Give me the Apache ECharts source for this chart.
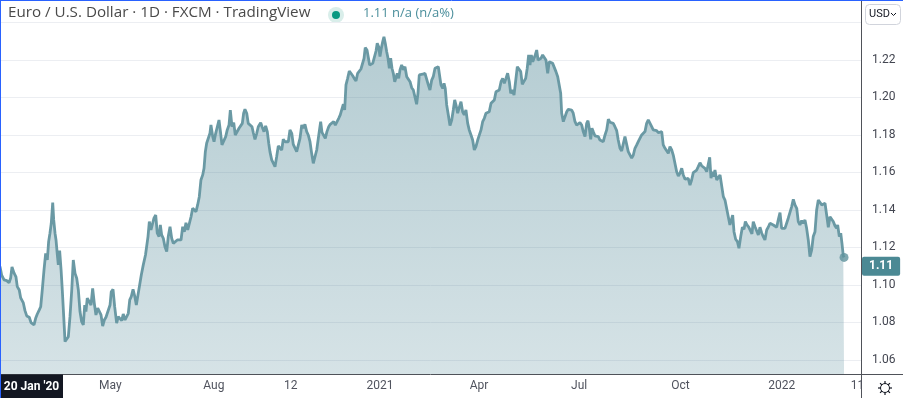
<!DOCTYPE html>
<html><head><meta charset="utf-8">
<script src="https://cdn.jsdelivr.net/npm/echarts@6/dist/echarts.min.js"></script>
<style>html,body{margin:0;padding:0;background:#fff}#c{width:903px;height:398px}</style>
</head><body><div id="c"></div>
<script>
const titleText = 'Euro / U.S. Dollar · 1D · FXCM · TradingView';
const lastText = '1.11 n/a (n/a%)';
const currency = 'USD';
const cursorLabel = "20 Jan '20";
// days counted from 2021-01-01
const days = [
-345.3,-343.8,-341.6,-339.2,-337.1,-335.6,-334.4,-332.6,-330.8,-329.6,-327.8,-326.5,-324.1,-322.6,-321.0,-318.7,-317.1,-315.6,-314.4,-312.9,
-311.4,-309.6,-308.3,-306.9,-305.3,-303.8,-302.3,-301.1,-299.9,-298.7,-297.4,-296.5,-295.3,-294.4,-293.2,-292.3,-291.1,-289.8,-288.7,-287.4,
-286.2,-284.7,-283.2,-281.7,-280.1,-278.7,-277.1,-275.6,-274.1,-272.6,-271.1,-269.6,-268.3,-267.2,-266.0,-264.2,-262.6,-261.1,-259.6,-258.1,
-256.5,-255.1,-253.5,-252.0,-250.5,-249.0,-247.2,-245.3,-244.2,-242.6,-241.1,-239.3,-237.8,-236.3,-234.7,-233.3,-231.7,-230.2,-228.7,-227.4,
-226.0,-224.4,-222.9,-221.4,-219.9,-218.4,-216.9,-215.1,-213.1,
-210.8,-209.6,-208.1,-206.5,-205.4,-203.8,-202.4,-200.8,-199.6,-198.4,-196.9,-195.4,-193.8,-192.4,-190.8,-189.3,-187.8,-186.0,-184.2,-182.4,
-180.8,-179.3,-177.8,-176.3,-174.7,-173.3,-171.7,-170.2,-168.7,-167.2,-165.7,-164.2,-162.7,-161.1,-159.9,-158.7,-157.5,-156.0,-154.5,-153.6,
-152.0,-150.8,-149.3,-147.8,-146.3,-144.8,-143.6,-141.8,-140.2,-138.8,-137.2,-136.0,-134.5,-132.9,-131.5,-129.7,-128.1,-126.6,-125.1,-123.9,
-122.7,-121.1,-119.7,-118.1,-116.3,-115.1,-113.6,-112.0,-110.6,-108.4,-107.0,-105.4,-103.9,-102.4,-101.1,-100.0,-98.4,-97.0,-95.4,-93.9,
-92.4,-90.9,-89.3,-87.9,-86.3,
-84.8,-83.3,-81.8,-80.2,-78.8,-77.2,-75.7,-74.2,-72.7,-71.1,-69.7,-68.2,-66.6,-65.2,-63.6,-62.1,-60.6,-59.1,-57.5,-56.1,
-55.2,-53.9,-52.7,-51.2,-49.7,-48.2,-46.6,-45.2,-43.6,-42.1,-40.6,-39.1,-37.5,-36.1,-34.5,-33.3,-32.1,-30.9,-29.4,-27.9,
-26.4,-24.8,-23.4,-21.8,-20.3,-18.8,-17.3,-15.7,-14.5,-13.4,-11.8,-10.6,-9.4,-8.2,-6.6,-5.2,-3.6,-2.5,-1.2,0.0,
1.2,2.5,3.6,4.8,6.1,7.3,8.5,9.7,10.9,12.1,13.4,14.5,15.7,17.0,18.2,19.7,21.2,22.7,24.3,25.7,
27.3,28.8,30.3,31.8,33.3,34.5,35.7,37.3,38.8,40.9,
42.4,43.9,45.4,47.0,48.4,50.0,51.5,53.0,54.5,55.4,57.0,58.2,59.3,60.6,62.1,63.6,65.2,66.6,67.9,69.1,
70.6,72.1,73.6,75.1,76.6,78.1,79.7,81.1,82.7,84.2,85.7,87.2,88.8,90.2,91.8,93.3,94.8,96.3,97.9,99.3,
100.9,102.4,103.9,105.4,107.0,108.4,110.0,111.5,113.0,114.5,116.0,117.5,118.8,120.2,121.8,123.3,124.8,126.3,127.9,129.3,
130.9,132.4,133.8,135.1,136.3,137.5,138.8,139.9,141.1,142.4,143.6,144.8,146.3,147.8,149.3,150.8,152.4,153.8,155.4,156.9,
158.4,159.9,161.5,162.9,164.2,
165.1,166.6,168.1,169.7,171.1,172.6,174.2,175.6,177.2,178.7,180.2,181.7,183.3,184.7,186.3,187.8,189.0,190.2,191.5,192.6,
193.8,195.4,196.9,198.4,199.9,201.5,202.9,204.5,206.0,207.5,209.0,210.5,212.0,213.5,215.1,216.5,218.1,219.6,221.1,222.6,
224.2,225.6,227.2,228.7,230.2,231.7,233.3,234.7,236.3,237.8,239.3,240.8,242.3,243.8,245.3,246.9,248.3,249.9,251.4,252.9,
254.4,256.0,257.4,259.0,260.5,262.0,263.5,265.1,266.5,268.1,269.6,271.1,272.6,274.2,275.6,277.2,278.7,280.1,281.7,283.2,
284.7,286.2,287.8,289.2,290.8,292.3,293.8,
295.3,296.9,298.3,299.6,300.8,302.0,303.2,304.4,306.0,307.4,309.0,310.5,312.0,313.5,315.0,316.5,318.0,319.6,320.5,321.7,
323.2,324.8,326.2,327.8,329.3,330.8,332.0,333.5,335.1,336.5,338.0,339.2,340.8,342.3,343.8,345.3,346.9,348.3,349.8,351.4,
352.8,354.4,355.9,357.4,358.9,360.5,361.9,363.5,365.0,366.5,368.0,369.6,371.0,372.6,374.1,375.6,377.1,378.7,380.1,381.6,
383.2,384.6,386.2,387.7,389.2,390.7,392.3,393.7,395.3,396.8,398.3,399.8,401.4,402.8,404.4,405.9,407.4,408.9,410.4,411.9,
413.5,415.0,415.9,417.4,418.7,419.8,421.0,421.7
];
const prices = [
1.1098,1.1053,1.1027,1.1023,1.1012,1.1037,1.1096,1.1064,1.1043,1.0991,1.0973,1.0931,1.0904,1.0863,1.0835,1.0828,1.0799,1.0796,1.0787,1.0822,
1.0845,1.0867,1.0884,1.0973,1.1080,1.1169,1.1133,1.1231,1.1276,1.1329,1.1439,1.1347,1.1276,1.1240,1.1160,1.1107,1.1183,1.1080,1.0973,1.0831,
1.0698,1.0707,1.0724,1.0831,1.0973,1.1133,1.1062,1.1036,1.0973,1.0858,1.0804,1.0787,1.0893,1.0858,1.0929,1.0929,1.0893,1.0982,1.0902,1.0840,
1.0876,1.0867,1.0840,1.0781,1.0813,1.0828,1.0822,1.0893,1.0964,1.0977,1.0884,1.0796,1.0831,1.0822,1.0810,1.0845,1.0813,1.0804,1.0849,1.0920,
1.0938,1.0977,1.0941,1.0893,1.0947,1.1000,1.1053,1.1107,1.1160,
1.1258,1.1338,1.1293,1.1302,1.1356,1.1373,1.1276,1.1258,1.1320,1.1267,1.1249,1.1204,1.1178,1.1258,1.1311,1.1249,1.1222,1.1231,1.1240,1.1249,
1.1240,1.1311,1.1284,1.1332,1.1293,1.1302,1.1364,1.1409,1.1418,1.1391,1.1427,1.1471,1.1560,1.1587,1.1622,1.1711,1.1756,1.1747,1.1809,1.1853,
1.1791,1.1764,1.1809,1.1844,1.1880,1.1809,1.1747,1.1738,1.1791,1.1827,1.1853,1.1933,1.1844,1.1866,1.1800,1.1791,1.1836,1.1827,1.1862,1.1916,
1.1937,1.1916,1.1862,1.1857,1.1844,1.1812,1.1777,1.1809,1.1844,1.1866,1.1841,1.1818,1.1848,1.1818,1.1756,1.1711,1.1667,1.1658,1.1631,1.1684,
1.1741,1.1738,1.1720,1.1777,1.1764,
1.1764,1.1764,1.1827,1.1809,1.1750,1.1747,1.1711,1.1720,1.1782,1.1853,1.1836,1.1857,1.1818,1.1800,1.1764,1.1702,1.1649,1.1644,1.1720,1.1729,
1.1818,1.1871,1.1814,1.1818,1.1782,1.1818,1.1844,1.1857,1.1862,1.1871,1.1853,1.1844,1.1889,1.1907,1.1916,1.1964,1.1933,1.2067,1.2102,1.2141,
1.2129,1.2116,1.2102,1.2088,1.2129,1.2138,1.2152,1.2156,1.2209,1.2266,1.2253,1.2248,1.2173,1.2170,1.2182,1.2191,1.2248,1.2289,1.2271,1.2218,
1.2262,1.2298,1.2324,1.2289,1.2244,1.2209,1.2156,1.2209,1.2156,1.2129,1.2084,1.2076,1.2129,1.2102,1.2147,1.2173,1.2147,1.2164,1.2111,1.2120,
1.2084,1.2052,1.2040,1.2049,1.1964,1.2022,1.2120,1.2124,1.2124,1.2129,
1.2120,1.2067,1.2040,1.2093,1.2111,1.2156,1.2159,1.2164,1.2173,1.2067,1.2049,1.2076,1.2049,1.1960,1.1907,1.1850,1.1880,1.1933,1.1987,1.1960,
1.1916,1.1907,1.1978,1.1924,1.1907,1.1933,1.1862,1.1827,1.1800,1.1773,1.1720,1.1738,1.1773,1.1768,1.1827,1.1871,1.1889,1.1916,1.1907,1.1924,
1.1969,1.1978,1.1987,1.2031,1.2031,1.2040,1.2084,1.2102,1.2076,1.2102,1.2129,1.2084,1.2022,1.2040,1.2013,1.2004,1.2164,1.2156,1.2138,1.2070,
1.2076,1.2102,1.2156,1.2227,1.2173,1.2227,1.2191,1.2191,1.2227,1.2253,1.2200,1.2205,1.2209,1.2227,1.2218,1.2200,1.2129,1.2191,1.2182,1.2182,
1.2173,1.2138,1.2111,1.2120,1.2022,
1.1916,1.1871,1.1862,1.1924,1.1937,1.1930,1.1933,1.1916,1.1871,1.1853,1.1862,1.1866,1.1853,1.1818,1.1791,1.1862,1.1876,1.1836,1.1777,1.1836,
1.1818,1.1795,1.1800,1.1791,1.1773,1.1777,1.1764,1.1800,1.1827,1.1884,1.1868,1.1866,1.1862,1.1844,1.1823,1.1773,1.1729,1.1715,1.1720,1.1791,
1.1782,1.1711,1.1711,1.1676,1.1693,1.1729,1.1747,1.1764,1.1764,1.1800,1.1809,1.1818,1.1862,1.1880,1.1871,1.1844,1.1827,1.1818,1.1823,1.1812,
1.1812,1.1818,1.1747,1.1729,1.1729,1.1702,1.1738,1.1720,1.1693,1.1684,1.1604,1.1581,1.1596,1.1622,1.1587,1.1564,1.1574,1.1569,1.1533,1.1560,
1.1599,1.1596,1.1613,1.1631,1.1652,1.1636,1.1640,
1.1622,1.1604,1.1596,1.1681,1.1569,1.1604,1.1578,1.1613,1.1560,1.1569,1.1587,1.1596,1.1471,1.1453,1.1444,1.1364,1.1320,1.1329,1.1373,1.1284,
1.1244,1.1231,1.1196,1.1258,1.1308,1.1297,1.1338,1.1320,1.1308,1.1302,1.1272,1.1338,1.1311,1.1311,1.1267,1.1308,1.1276,1.1258,1.1240,1.1293,
1.1308,1.1329,1.1320,1.1320,1.1329,1.1308,1.1347,1.1386,1.1302,1.1293,1.1302,1.1308,1.1356,1.1356,1.1418,1.1457,1.1427,1.1409,1.1338,1.1320,
1.1343,1.1329,1.1347,1.1302,1.1240,1.1151,1.1187,1.1258,1.1284,1.1400,1.1453,1.1444,1.1427,1.1430,1.1436,1.1373,1.1308,1.1364,1.1356,1.1338,
1.1315,1.1302,1.1320,1.1258,1.1276,1.1222,1.1155,1.1147
];
const yTicks = [1.06,1.08,1.10,1.12,1.14,1.16,1.18,1.20,1.22,1.24];
const yRange = [1.0525, 1.252];
const xRangeDays = [-345.3, 437.1];
// tick positions in days from 2021-01-01 (2020-05-01, 2020-08-03, 2020-10-12, 2021-01-01, 2021-04-01, 2021-07-01, 2021-10-01, 2022-01-01, 2022-03-11)
const xTickDays = [-245, -151, -81, 0, 90, 181, 273, 365, 434];
const xTickLabels = ['May','Aug','12','2021','Apr','Jul','Oct','2022','11'];

const seriesData = days.map((d, i) => [d, prices[i]]);
const lastPoint = seriesData[seriesData.length - 1];

const lineColor = '#6a99a4';
const tealLabel = '#4b8994';
const axisColor = '#4f5259';
const FONT = 'Roboto';

const chart = echarts.init(document.getElementById('c'), null, {renderer: 'canvas'});

function gear(cx, cy) {
  const els = [{type: 'circle', shape: {cx, cy, r: 4.5}, style: {fill: '#fff', stroke: '#131722', lineWidth: 1}}];
  for (let k = 0; k < 8; k++) {
    const a = k * Math.PI / 4;
    els.push({type: 'line', shape: {x1: cx + Math.cos(a) * 4.5, y1: cy + Math.sin(a) * 4.5, x2: cx + Math.cos(a) * 7, y2: cy + Math.sin(a) * 7},
      style: {stroke: '#131722', lineWidth: 1.2}});
  }
  return {type: 'group', children: els, z: 10};
}

chart.setOption({
  animation: false,
  backgroundColor: '#fff',
  grid: {left: 0, right: 42, top: 0, bottom: 24, outerBoundsMode: 'none'},
  xAxis: {
    type: 'value', min: xRangeDays[0], max: xRangeDays[1],
    axisLine: {show: true, onZero: false, lineStyle: {color: axisColor, width: 1}},
    axisTick: {show: false, customValues: xTickDays},
    splitLine: {show: false},
    axisLabel: {
      customValues: xTickDays, margin: 6, color: '#50535e', fontSize: 12, fontFamily: FONT,
      formatter: v => xTickLabels[xTickDays.indexOf(Math.round(v))] || ''
    }
  },
  yAxis: {
    type: 'value', position: 'right', min: yRange[0], max: yRange[1],
    axisLine: {show: true, onZero: false, lineStyle: {color: axisColor, width: 1}},
    axisTick: {show: false, customValues: yTicks},
    splitLine: {show: true, lineStyle: {color: '#eceef2', width: 1}},
    axisLabel: {customValues: yTicks, margin: 11, color: '#434651', fontSize: 12, fontFamily: FONT,
      formatter: v => v.toFixed(2)}
  },
  series: [
    {
      type: 'line', data: seriesData, showSymbol: false, symbol: 'none', smooth: false,
      lineStyle: {color: lineColor, width: 2.8},
      areaStyle: {color: new echarts.graphic.LinearGradient(0, 0, 0, 1, [
        {offset: 0, color: 'rgba(60,122,138,0.55)'},
        {offset: 1, color: 'rgba(60,122,138,0.30)'}
      ])},
      markLine: {
        silent: true, symbol: 'none', animation: false,
        lineStyle: {color: 'rgba(0,0,0,0)', width: 0},
        data: [{yAxis: lastPoint[1]}],
        label: {show: true, position: 'end', distance: 1, formatter: p => Number(p.value).toFixed(2),
          backgroundColor: tealLabel, color: '#fff', fontWeight: 'bold', fontSize: 12, fontFamily: FONT,
          padding: [4, 7, 3, 7], borderRadius: 2}
      },
      z: 2
    },
    {
      type: 'scatter', data: [lastPoint], symbolSize: 9, itemStyle: {color: '#5f929c'}, silent: true, z: 3
    }
  ],
  graphic: [
    {type: 'text', left: 8, top: 5, style: {text: titleText, font: '15.2px "Open Sans"', fill: '#4a4a4a'}},
    {type: 'circle', shape: {cx: 336, cy: 15, r: 8}, style: {fill: '#d9eeea'}},
    {type: 'circle', shape: {cx: 336, cy: 15, r: 4}, style: {fill: '#089981'}},
    {type: 'text', left: 363, top: 7, style: {text: lastText, font: '13px "Open Sans"', fill: '#4a8e9b'}},
    {type: 'rect', shape: {x: 865.5, y: 4.5, width: 35, height: 20, r: 4}, style: {fill: '#fff', stroke: '#d1d4dc', lineWidth: 1}, z: 10},
    {type: 'text', x: 869, y: 9, style: {text: currency, font: '11px ' + FONT, fill: '#131722'}, z: 11},
    {type: 'polyline', shape: {points: [[891, 13], [893.5, 15.5], [896, 13]]}, style: {stroke: '#131722', lineWidth: 1, fill: null}, z: 11},
    {type: 'rect', shape: {x: 0, y: 374.5, width: 63, height: 24}, style: {fill: '#131722'}, z: 10},
    {type: 'text', x: 31.5, y: 386.5, style: {text: cursorLabel, font: 'bold 12px ' + FONT, fill: '#fff', align: 'center', verticalAlign: 'middle'}, z: 11},
    {type: 'line', shape: {x1: 861.5, y1: 374, x2: 861.5, y2: 398}, style: {stroke: axisColor, lineWidth: 1}},
    {type: 'line', shape: {x1: 861, y1: 374.5, x2: 903, y2: 374.5}, style: {stroke: axisColor, lineWidth: 1}},
    gear(885, 388),
    {type: 'line', shape: {x1: 0, y1: 0.5, x2: 903, y2: 0.5}, style: {stroke: '#2962ff', lineWidth: 1}, z: 20},
    {type: 'line', shape: {x1: 0.5, y1: 0, x2: 0.5, y2: 398}, style: {stroke: '#2962ff', lineWidth: 1}, z: 20}
  ]
});
</script></body></html>
